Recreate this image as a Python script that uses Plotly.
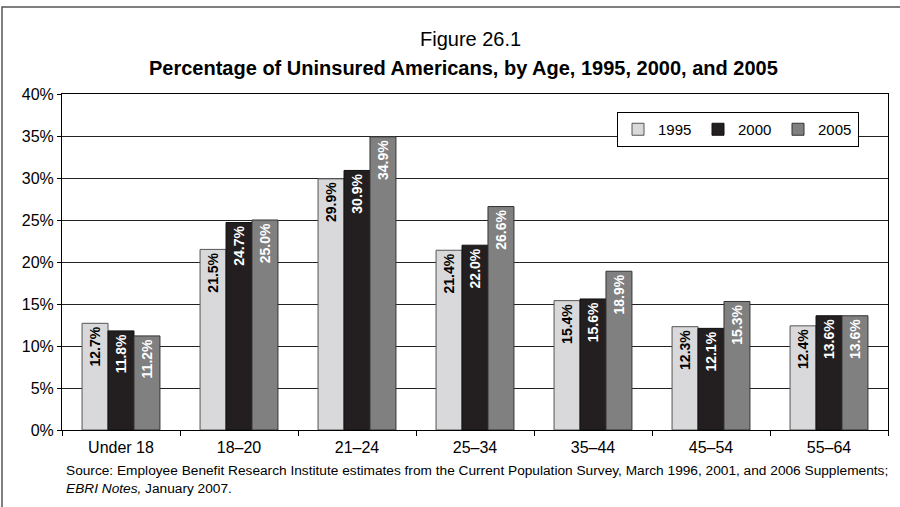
import plotly.graph_objects as go

categories = ["Under 18", "18\u201320", "21\u201324", "25\u201334", "35\u201344", "45\u201354", "55\u201364"]
years = ["1995", "2000", "2005"]
v1995 = [12.7, 21.5, 29.9, 21.4, 15.4, 12.3, 12.4]
v2000 = [11.8, 24.7, 30.9, 22.0, 15.6, 12.1, 13.6]
v2005 = [11.2, 25.0, 34.9, 26.6, 18.9, 15.3, 13.6]
y_ticks = [0, 5, 10, 15, 20, 25, 30, 35, 40]
y_tick_labels = [f"{t}%" for t in y_ticks]

series = [v1995, v2000, v2005]
fills = ["#d9d9db", "#231f20", "#808080"]
outlines = ["#555555", "#111111", "#333333"]
text_colors = ["#000000", "#ffffff", "#ffffff"]

FONT = "Arial, Liberation Sans, sans-serif"

fig = go.Figure()
for name, vals, fc, lc, tc in zip(years, series, fills, outlines, text_colors):
    fig.add_trace(go.Bar(
        name=name, x=categories, y=vals,
        marker=dict(color=fc, line=dict(color=lc, width=1)),
        text=[f"{v:.1f}%" for v in vals],
        textposition="inside", insidetextanchor="end", textangle=-90,
        insidetextfont=dict(family=FONT, size=14, color=tc, weight="bold"),
        cliponaxis=False,
    ))

W, H = 900, 507
L, R, T, B = 62, 12, 94, 77
pw, ph = W - L - R, H - T - B

def px(x):
    return (x - L) / pw

def py(y):
    return (H - B - y) / ph

fig.update_layout(
    width=W, height=H,
    margin=dict(l=L, r=R, t=T, b=B, autoexpand=False),
    paper_bgcolor="white", plot_bgcolor="white",
    barmode="group", bargap=0.34, bargroupgap=0,
    font=dict(family=FONT, color="#000000"),
    showlegend=True,
    legend=dict(
        orientation="h", x=px(617), y=py(112), xanchor="left", yanchor="top",
        bordercolor="#000000", borderwidth=1, bgcolor="white",
        font=dict(size=15, family=FONT), itemwidth=30, entrywidth=35,
        traceorder="normal",
    ),
    xaxis=dict(
        showline=True, linecolor="#000000", linewidth=1, mirror=True,
        ticks="outside", tickson="boundaries", ticklen=5, tickcolor="#000000",
        tickfont=dict(size=16, family=FONT), showgrid=False,
        ticklabelstandoff=3,
    ),
    yaxis=dict(
        range=[0, 40], tickvals=y_ticks, ticktext=y_tick_labels,
        showline=True, linecolor="#000000", linewidth=1, mirror=True,
        ticks="outside", ticklen=4, tickcolor="#000000",
        tickfont=dict(size=16, family=FONT),
        showgrid=True, gridcolor="#222222", gridwidth=1, zeroline=False,
    ),
    shapes=[dict(type="rect", xref="paper", yref="paper",
                 x0=px(2), x1=px(908), y0=py(7), y1=py(520),
                 line=dict(color="#555555", width=1.5), layer="below")],
    annotations=[
        dict(text="Figure 26.1", xref="paper", yref="paper", x=px(470), y=py(39),
             xanchor="center", yanchor="middle", showarrow=False,
             font=dict(size=20, family=FONT)),
        dict(text="<b>Percentage of Uninsured Americans, by Age, 1995, 2000, and 2005</b>",
             xref="paper", yref="paper", x=px(463), y=py(68),
             xanchor="center", yanchor="middle", showarrow=False,
             font=dict(size=20, family=FONT)),
        dict(text="Source: Employee Benefit Research Institute estimates from the Current Population Survey, March 1996, 2001, and 2006 Supplements;",
             xref="paper", yref="paper", x=px(64), y=py(470),
             xanchor="left", yanchor="middle", showarrow=False,
             font=dict(size=13.7, family=FONT)),
        dict(text="<i>EBRI Notes,</i> January 2007.",
             xref="paper", yref="paper", x=px(64), y=py(488),
             xanchor="left", yanchor="middle", showarrow=False,
             font=dict(size=13.7, family=FONT)),
    ],
)

fig.write_html("out.html")
